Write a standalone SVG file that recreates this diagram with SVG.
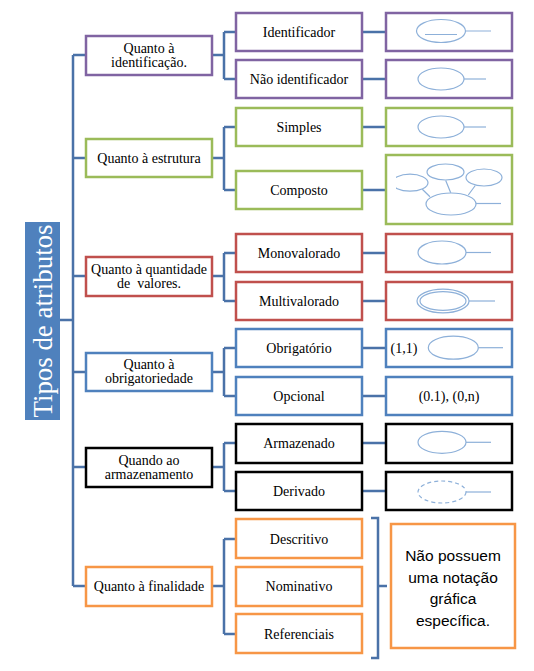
<svg xmlns="http://www.w3.org/2000/svg" width="534" height="671" viewBox="0 0 534 671">
<style>
.b{fill:#fff;stroke-width:2.5}
.pu{stroke:#8064A2}.gr{stroke:#9BBB59}.re{stroke:#C0504D}.bl{stroke:#4F81BD}.bk{stroke:#000}.or{stroke:#F79646}
.t{font-family:"Liberation Serif","Times New Roman",serif;font-size:14px;fill:#000;text-anchor:middle}
.c{fill:none;stroke:#4A72A8;stroke-width:2.5}
.e{fill:none;stroke:#8DB0D9;stroke-width:1.2}
</style>
<defs><clipPath id="cp"><rect x="396" y="150" width="120" height="80"/></clipPath></defs>
<rect width="534" height="671" fill="#fff"/>

<g id="connectors">
<path class="c" d="M60 320H73M73 55V586M73 55H86M73 158H86M73 276H86M73 372H86M73 467H86M73 586H86"/>
<path class="c" d="M212 55H224M224 32V79M224 32H236M224 79H236"/>
<path class="c" d="M212 158H224M224 127V190M224 127H236M224 190H236"/>
<path class="c" d="M212 276H224M224 253V301M224 253H236M224 301H236"/>
<path class="c" d="M212 372H224M224 348V396M224 348H236M224 396H236"/>
<path class="c" d="M212 467H224M224 443V491M224 443H236M224 491H236"/>
<path class="c" d="M212 586H224M224 539V634M224 539H236M224 634H236"/>
<path class="c" d="M362 32H386M362 79H386M362 127H386M362 190H386M362 253H386M362 301H386M362 348H386M362 396H386M362 443H386M362 491H386"/>
<path class="c" d="M371 518H378V586L387 586M378 586V658H371" stroke-linejoin="miter"/>
</g>

<g id="title">
<rect x="25" y="222" width="35" height="198" fill="#4F81BD"/>
<text transform="translate(52 321) rotate(-90)" font-family="Liberation Serif,'Times New Roman',serif" font-size="27" fill="#fff" text-anchor="middle" textLength="193" lengthAdjust="spacingAndGlyphs">Tipos de atributos</text>
</g>

<g id="n-identificacao"><rect class="b pu" x="86" y="36" width="126" height="39"/><text class="t" x="149" y="52.5">Quanto à</text><text class="t" x="149" y="66.5">identificação.</text></g>
<g id="n-estrutura"><rect class="b gr" x="86" y="139" width="126" height="38"/><text class="t" x="149" y="162.5">Quanto à estrutura</text></g>
<g id="n-quantidade"><rect class="b re" x="86" y="257" width="126" height="39"/><text class="t" x="149" y="274">Quanto à quantidade</text><text class="t" x="149" y="288" xml:space="preserve">de  valores.</text></g>
<g id="n-obrigatoriedade"><rect class="b bl" x="86" y="353" width="126" height="38"/><text class="t" x="149" y="369">Quanto à</text><text class="t" x="149" y="383">obrigatoriedade</text></g>
<g id="n-armazenamento"><rect class="b bk" x="86" y="448" width="126" height="39"/><text class="t" x="149" y="465">Quando ao</text><text class="t" x="149" y="479">armazenamento</text></g>
<g id="n-finalidade"><rect class="b or" x="86" y="567" width="126" height="39"/><text class="t" x="149" y="591">Quanto à finalidade</text></g>

<g id="n-identificador"><rect class="b pu" x="236" y="13" width="126" height="38"/><text class="t" x="299" y="36.5">Identificador</text></g>
<g id="n-nao-identificador"><rect class="b pu" x="236" y="60" width="126" height="38"/><text class="t" x="299" y="83.5">Não identificador</text></g>
<g id="n-simples"><rect class="b gr" x="236" y="108" width="126" height="38"/><text class="t" x="299" y="131.5">Simples</text></g>
<g id="n-composto"><rect class="b gr" x="236" y="171" width="126" height="38"/><text class="t" x="299" y="194.5">Composto</text></g>
<g id="n-monovalorado"><rect class="b re" x="236" y="234" width="126" height="38"/><text class="t" x="299" y="257.5">Monovalorado</text></g>
<g id="n-multivalorado"><rect class="b re" x="236" y="282" width="126" height="38"/><text class="t" x="299" y="305.5">Multivalorado</text></g>
<g id="n-obrigatorio"><rect class="b bl" x="236" y="329" width="126" height="38"/><text class="t" x="299" y="352.5">Obrigatório</text></g>
<g id="n-opcional"><rect class="b bl" x="236" y="377" width="126" height="38"/><text class="t" x="299" y="400.5">Opcional</text></g>
<g id="n-armazenado"><rect class="b bk" x="236" y="424" width="126" height="39"/><text class="t" x="299" y="447.5">Armazenado</text></g>
<g id="n-derivado"><rect class="b bk" x="236" y="472" width="126" height="38"/><text class="t" x="299" y="495.5">Derivado</text></g>
<g id="n-descritivo"><rect class="b or" x="236" y="519" width="126" height="39"/><text class="t" x="299" y="543.5">Descritivo</text></g>
<g id="n-nominativo"><rect class="b or" x="236" y="567" width="126" height="39"/><text class="t" x="299" y="591">Nominativo</text></g>
<g id="n-referenciais"><rect class="b or" x="236" y="614" width="126" height="39"/><text class="t" x="299" y="638.5">Referenciais</text></g>

<g id="s-identificador"><rect class="b pu" x="386" y="13" width="126" height="38"/>
<ellipse class="e" cx="441" cy="31" rx="24.5" ry="11.5"/><path class="e" d="M425 34.5H457M465.5 31H491"/></g>
<g id="s-nao-identificador"><rect class="b pu" x="386" y="60" width="126" height="38"/>
<ellipse class="e" cx="441" cy="79" rx="23" ry="11"/><path class="e" d="M464 79H486"/></g>
<g id="s-simples"><rect class="b gr" x="386" y="108" width="126" height="38"/>
<ellipse class="e" cx="441" cy="127" rx="23" ry="11"/><path class="e" d="M464 127H486"/></g>
<g id="s-composto"><rect class="b gr" x="386" y="155" width="126" height="69"/>
<ellipse class="e" cx="451" cy="204" rx="25" ry="11"/><path class="e" d="M476 203.5H501"/>
<ellipse class="e" cx="445.5" cy="172" rx="18.5" ry="8"/>
<ellipse class="e" cx="484" cy="177.5" rx="18" ry="8.5"/>
<ellipse class="e" cx="410" cy="182.7" rx="18" ry="8.5" clip-path="url(#cp)"/>
<path class="e" d="M422.3 189.3L430 196.7M445.7 180.5L450.7 192.8M475.3 185.5L468.3 195"/></g>
<g id="s-monovalorado"><rect class="b re" x="386" y="234" width="126" height="38"/>
<ellipse class="e" cx="442" cy="252.5" rx="24" ry="11.5"/><path class="e" d="M466 252.5H491"/></g>
<g id="s-multivalorado"><rect class="b re" x="386" y="282" width="126" height="38"/>
<ellipse class="e" cx="443" cy="301" rx="26" ry="11.8"/><ellipse class="e" cx="443" cy="301" rx="23" ry="9.3"/><path class="e" d="M469 301H495"/></g>
<g id="s-obrigatorio"><rect class="b bl" x="386" y="329" width="126" height="38"/>
<text class="t" x="404" y="352.5">(1,1)</text>
<ellipse class="e" cx="453.3" cy="347.7" rx="25" ry="11.5"/><path class="e" d="M478.3 347.7H503"/></g>
<g id="s-opcional"><rect class="b bl" x="386" y="377" width="126" height="38"/><text class="t" x="449" y="400.5">(0.1), (0,n)</text></g>
<g id="s-armazenado"><rect class="b bk" x="386" y="424" width="126" height="39"/>
<ellipse class="e" cx="442" cy="442.3" rx="24" ry="11"/><path class="e" d="M466 442.3H491"/></g>
<g id="s-derivado"><rect class="b bk" x="386" y="472" width="126" height="38"/>
<ellipse class="e" cx="442" cy="492" rx="24" ry="11" stroke-dasharray="4 3"/><path class="e" d="M466 492H491"/></g>

<g id="note"><rect class="b or" x="391" y="524" width="124" height="124"/>
<g font-family="Liberation Sans,Arial,sans-serif" font-size="15.5" fill="#000" text-anchor="middle">
<text x="453" y="561">Não possuem</text><text x="453" y="582.5">uma notação</text><text x="453" y="604">gráfica</text><text x="453" y="625.5">específica.</text></g></g>
</svg>
